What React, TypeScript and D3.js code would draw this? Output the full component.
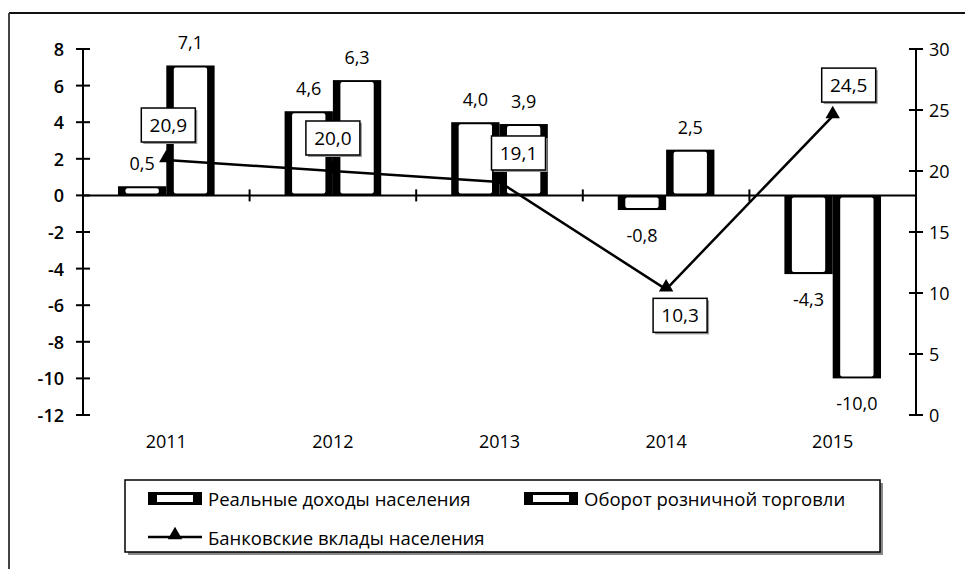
import React from 'react';
import * as d3 from 'd3';

const years = ['2011', '2012', '2013', '2014', '2015'];
const incomes = [0.5, 4.6, 4.0, -0.8, -4.3];
const retail = [7.1, 6.3, 3.9, 2.5, -10.0];
const deposits = [20.9, 20.0, 19.1, 10.3, 24.5];
const leftTicks = [-12, -10, -8, -6, -4, -2, 0, 2, 4, 6, 8];
const rightTicks = [0, 5, 10, 15, 20, 25, 30];
const seriesNames = ['Реальные доходы населения', 'Оборот розничной торговли', 'Банковские вклады населения'];

// hand-placed label boxes for the line (offset from the point)
const depositLabelShift = [
  [2, -35],
  [0, -33],
  [19, -29],
  [14, 26],
  [16, -31],
];

const fmt = (v: number) => v.toFixed(1).replace('.', ',');
const font = '"Open Sans", sans-serif';

const W = 965;
const H = 569;
const left = 83;
const right = 916;
const top = 49;
const bottom = 415;

const Bar = ({ x, w, y0, y1 }: { x: number; w: number; y0: number; y1: number }) => {
  const yt = Math.min(y0, y1);
  const h = Math.abs(y1 - y0);
  const side = 7.5;
  const cap = 2;
  return (
    <g>
      <rect x={x} y={yt} width={w} height={h} fill="#000" />
      <rect x={x + side} y={yt + cap} width={Math.max(0, w - 2 * side)} height={Math.max(0, h - 2 * cap)} fill="#fff" rx={2} />
    </g>
  );
};

export default function App() {
  const x0 = d3.scaleBand<string>().domain(years).range([left, right]).paddingInner(0.42).paddingOuter(0.21);
  const x1 = d3.scaleBand<number>().domain([0, 1]).range([0, x0.bandwidth()]);
  const yL = d3.scaleLinear().domain([-12, 8]).range([bottom, top]);
  const yR = d3.scaleLinear().domain([0, 30]).range([bottom, top]);
  const zero = yL(0);
  const step = x0.step();

  const line = d3
    .line<number>()
    .x((_, i) => (x0(years[i]) as number) + x0.bandwidth() / 2)
    .y((d) => yR(d));

  const tri = d3.symbol().type(d3.symbolTriangle).size(90)();

  const bars = [incomes, retail];

  return (
    <svg width={W} height={H} style={{ position: 'absolute', left: 0, top: 0, background: '#fff' }} fontFamily={font}>
      {/* outer frame */}
      <line x1={9} y1={13} x2={W} y2={13} stroke="#111" strokeWidth={2} />
      <line x1={9} y1={13} x2={9} y2={H} stroke="#444" strokeWidth={2} />

      {/* bars */}
      {bars.map((vals, s) =>
        vals.map((v, i) => {
          const bx = (x0(years[i]) as number) + (x1(s) as number);
          return <Bar key={`${s}-${i}`} x={bx} w={x1.bandwidth()} y0={zero} y1={yL(v)} />;
        })
      )}

      {/* zero line with category ticks */}
      <line x1={left} x2={right} y1={zero} y2={zero} stroke="#000" strokeWidth={2} />
      {years.map((_, i) =>
        i > 0 ? (
          <line key={i} x1={left + step * i} x2={left + step * i} y1={zero - 6} y2={zero + 6} stroke="#000" strokeWidth={2} />
        ) : null
      )}

      {/* left axis */}
      <line x1={left} x2={right - right + left} y1={top} y2={bottom} stroke="#000" strokeWidth={2} />
      {leftTicks.map((t) => (
        <g key={t}>
          <line x1={left - 7} x2={left + 7} y1={yL(t)} y2={yL(t)} stroke="#000" strokeWidth={2} />
          <text x={left - 19} y={yL(t)} textAnchor="end" dominantBaseline="central" fontSize={18} fontWeight={600}>
            {t}
          </text>
        </g>
      ))}

      {/* right axis */}
      <line x1={right} x2={right} y1={top} y2={bottom} stroke="#000" strokeWidth={2} />
      {rightTicks.map((t) => (
        <g key={t}>
          <line x1={right - 7} x2={right + 7} y1={yR(t)} y2={yR(t)} stroke="#000" strokeWidth={2} />
          <text x={right + 13} y={yR(t)} dominantBaseline="central" fontSize={18}>
            {t}
          </text>
        </g>
      ))}

      {/* category labels */}
      {years.map((y) => (
        <text key={y} x={(x0(y) as number) + x0.bandwidth() / 2} y={441} textAnchor="middle" dominantBaseline="central" fontSize={18}>
          {y}
        </text>
      ))}

      {/* bar value labels */}
      {bars.map((vals, s) =>
        vals.map((v, i) => {
          const cx = (x0(years[i]) as number) + (x1(s) as number) + x1.bandwidth() / 2;
          const cy = v >= 0 ? yL(v) - 23 : yL(v) + 25;
          return (
            <text key={`l${s}-${i}`} x={cx} y={cy} textAnchor="middle" dominantBaseline="central" fontSize={18}>
              {fmt(v)}
            </text>
          );
        })
      )}

      {/* deposits line */}
      <path d={line(deposits) as string} fill="none" stroke="#000" strokeWidth={2.5} />
      {deposits.map((v, i) => {
        const cx = (x0(years[i]) as number) + x0.bandwidth() / 2;
        return <path key={`m${i}`} d={tri as string} transform={`translate(${cx},${yR(v) - 2})`} fill="#000" />;
      })}
      {deposits.map((v, i) => {
        const cx = (x0(years[i]) as number) + x0.bandwidth() / 2 + depositLabelShift[i][0];
        const cy = yR(v) + depositLabelShift[i][1];
        return (
          <g key={`b${i}`}>
            <rect x={cx - 25} y={cy - 15} width={54} height={34} fill="#999" />
            <rect x={cx - 27} y={cy - 17} width={54} height={34} fill="#fff" stroke="#000" strokeWidth={1.5} />
            <text x={cx} y={cy} textAnchor="middle" dominantBaseline="central" fontSize={19}>
              {fmt(v)}
            </text>
          </g>
        );
      })}

      {/* legend */}
      <rect x={128} y={483} width={755} height={72} fill="#888" />
      <rect x={125} y={480} width={755} height={72} fill="#fff" stroke="#000" strokeWidth={1.5} />
      {[0, 1].map((s) => {
        const lx = s === 0 ? 148 : 524;
        return (
          <g key={`lg${s}`}>
            <rect x={lx} y={492} width={54} height={13} fill="#000" />
            <rect x={lx + 9} y={495} width={36} height={7} fill="#fff" />
            <text x={lx + 60} y={498} dominantBaseline="central" fontSize={18.5}>
              {seriesNames[s]}
            </text>
          </g>
        );
      })}
      <line x1={148} x2={202} y1={537} y2={537} stroke="#000" strokeWidth={2.5} />
      <path d={tri as string} transform="translate(175,535)" fill="#000" />
      <text x={208} y={537} dominantBaseline="central" fontSize={18.5}>
        {seriesNames[2]}
      </text>
    </svg>
  );
}
